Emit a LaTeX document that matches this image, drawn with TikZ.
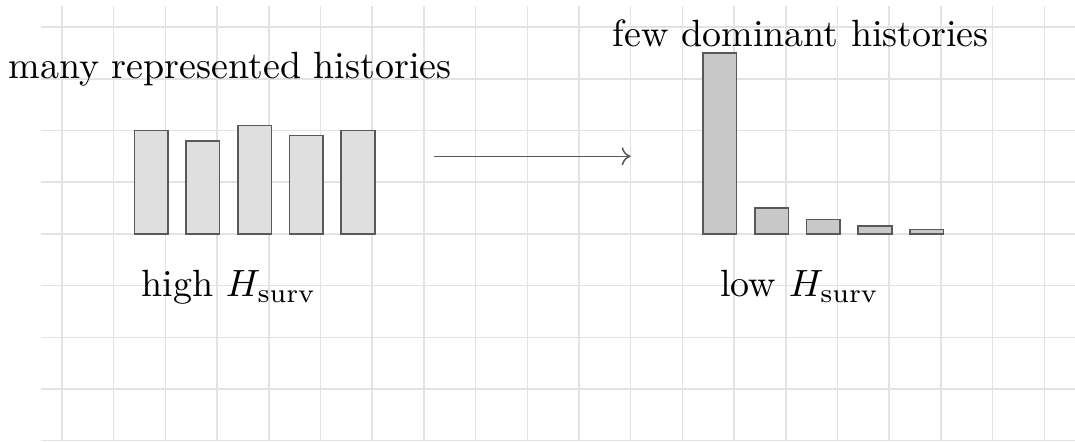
\documentclass[tikz,border=0pt]{standalone}
\usetikzlibrary{arrows.meta}
\begin{document}
\begin{tikzpicture}[x=1cm,y=1cm,
  gridline/.style={draw=gray!22, line width=0.84pt},
  lowbar/.style={draw=black!65, fill=gray!25, line width=0.84pt},
  highbar/.style={draw=black!65, fill=gray!43, line width=0.84pt},
  flow/.style={draw=black!65, line width=0.84pt, -{To[length=5pt,width=10pt]}},
  lbl/.style={inner sep=0pt, anchor=base, scale=2.09}]
\useasboundingbox (-1.2,-0.025) rectangle (19.594,8.524);
\draw[gridline] (-0.406,0) grid (19.6,8.41);
% left group: many represented histories
\foreach \i/\h in {0/2.0,1/1.8,2/2.1,3/1.9,4/2.0}
  \draw[lowbar] (1.4+\i,4) rectangle ++(0.65,\h);
% right group: few dominant histories
\foreach \i/\h in {0/3.5,1/0.5,2/0.28,3/0.15,4/0.08}
  \draw[highbar] (12.4+\i,4) rectangle ++(0.65,\h);
\node[lbl] (many) at (3.25,7.0) {many represented histories};
\node[lbl] (high) at (3.23,2.79) {high $H_{\mathrm{surv}}$};
\node[lbl] (few) at (14.29,7.62) {few dominant histories};
\node[lbl] (low) at (14.27,2.79) {low $H_{\mathrm{surv}}$};
\coordinate (from) at (7.2,5.5);
\coordinate (to) at (11.0,5.5);
\draw[flow] (from) -- (to);
\end{tikzpicture}
\end{document}
